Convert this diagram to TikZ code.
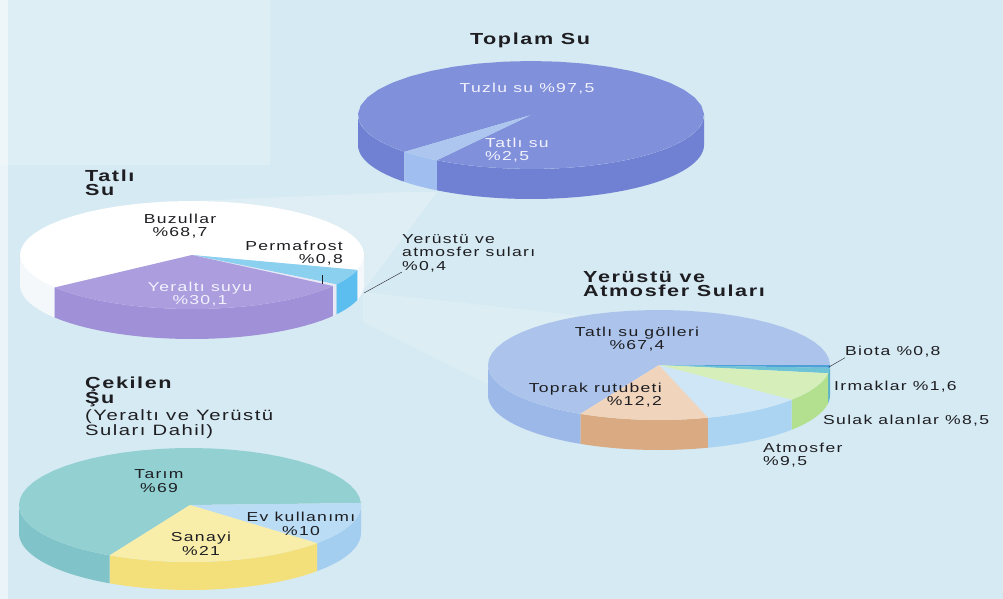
\documentclass[tikz,border=0pt]{standalone}
\usepackage{fontspec}
\setmainfont{Liberation Sans}[FakeStretch=1.35,LetterSpace=10]
\usepackage{tikz}
\usetikzlibrary{positioning}
\definecolor{bgblue}{RGB}{214,234,243}
\definecolor{bglight}{RGB}{222,238,245}
\definecolor{saltTop}{RGB}{128,144,218}
\definecolor{saltSide}{RGB}{112,128,210}
\definecolor{freshTop}{RGB}{172,198,240}
\definecolor{freshSide}{RGB}{160,190,240}
\definecolor{iceTop}{RGB}{255,255,255}
\definecolor{iceSide}{RGB}{244,248,251}
\definecolor{groundTop}{RGB}{172,158,222}
\definecolor{groundSide}{RGB}{160,144,216}
\definecolor{permaTop}{RGB}{232,232,246}
\definecolor{surfTop}{RGB}{140,208,240}
\definecolor{surfSide}{RGB}{92,190,238}
\definecolor{lakeTop}{RGB}{172,196,236}
\definecolor{lakeSide}{RGB}{156,184,232}
\definecolor{soilTop}{RGB}{240,212,188}
\definecolor{soilSide}{RGB}{218,170,130}
\definecolor{airTop}{RGB}{206,230,246}
\definecolor{airSide}{RGB}{170,212,242}
\definecolor{wetTop}{RGB}{214,238,186}
\definecolor{wetSide}{RGB}{178,224,142}
\definecolor{riverTop}{RGB}{110,196,214}
\definecolor{riverSide}{RGB}{90,180,200}
\definecolor{biotaTop}{RGB}{80,160,216}
\definecolor{farmTop}{RGB}{146,208,210}
\definecolor{farmSide}{RGB}{128,196,202}
\definecolor{indTop}{RGB}{248,238,170}
\definecolor{indSide}{RGB}{244,224,122}
\definecolor{homeTop}{RGB}{186,220,244}
\definecolor{homeSide}{RGB}{164,206,240}
\definecolor{ink}{RGB}{30,30,34}
\tikzstyle{title}=[inner sep=0pt,align=left,text=ink,font=\fontsize{16}{14.5}\selectfont\bfseries]
\tikzstyle{sublbl}=[inner sep=0pt,align=left,text=ink,font=\fontsize{15}{14.5}\selectfont]
\tikzstyle{lbl}=[inner sep=0pt,text=ink,font=\fontsize{13}{13.5}\selectfont]
\tikzstyle{inlbl}=[lbl,text=white!95!blue]
\tikzstyle{pointer}=[draw=ink,thin]
% top face and front side of one slice, angles in degrees
\newcommand{\ptop}[3]{\fill[#3] (0,0) -- plot[domain=#1:#2,samples=40] ({\pieA*cos(\x)},{\pieB*sin(\x)}) -- cycle;}
\newcommand{\pside}[3]{\fill[#3] plot[domain=#1:#2,samples=40] ({\pieA*cos(\x)},{\pieB*sin(\x)}) -- plot[domain=#2:#1,samples=40] ({\pieA*cos(\x)},{\pieH+\pieB*sin(\x)}) -- cycle;}
\begin{document}
\begin{tikzpicture}[x=1pt,y=-1pt]
        \useasboundingbox (0,0) rectangle (1003,599);
        \fill[bgblue] (0,0) rectangle (1003,599);
        \fill[bglight] (0,0) rectangle (270,165);
        \fill[white,opacity=0.5] (0,0) rectangle (8,599);
        % light beams between the pies
        \fill[white,opacity=0.22] (404,192) -- (437,192) -- (364,290) -- (192,201) -- cycle;
        \fill[white,opacity=0.15] (363,292) -- (363,322) -- (500,390) -- (600,318) -- cycle;

        % Toplam Su:
        \begin{scope}[shift={(531,115)}]
          \def\pieA{173}\def\pieB{54}\def\pieH{30}
          \pside{0}{123}{saltSide}
          \pside{137}{180}{saltSide}
          \pside{123}{137}{freshSide}
          \ptop{137}{483}{saltTop}
          \ptop{123}{137}{freshTop}
        \end{scope}
        % Tatli Su:
        \begin{scope}[shift={(192,255)}]
          \def\pieA{172}\def\pieB{54}\def\pieH{30}
          \pside{0}{16}{iceSide}
          \pside{143}{180}{iceSide}
          \pside{16}{33}{surfSide}
          \pside{33}{35}{permaTop}
          \pside{35}{143}{groundSide}
          \ptop{143}{376}{iceTop}
          \ptop{16}{33}{surfTop}
          \ptop{33}{35}{permaTop}
          \ptop{35}{143}{groundTop}
        \end{scope}
        % Yerustu ve Atmosfer Sulari:
        \begin{scope}[shift={(659,365)}]
          \def\pieA{171}\def\pieB{55}\def\pieH{30}
          \pside{0}{2.9}{biotaTop}
          \pside{2.9}{8.6}{riverSide}
          \pside{8.6}{39.2}{wetSide}
          \pside{39.2}{73.4}{airSide}
          \pside{73.4}{117.4}{soilSide}
          \pside{117.4}{180}{lakeSide}
          \ptop{117.4}{360}{lakeTop}
          \ptop{0}{2.9}{biotaTop}
          \ptop{2.9}{8.6}{riverTop}
          \ptop{8.6}{39.2}{wetTop}
          \ptop{39.2}{73.4}{airTop}
          \ptop{73.4}{117.4}{soilTop}
        \end{scope}
        % Cekilen Su:
        \begin{scope}[shift={(190,505)}]
          \def\pieA{171}\def\pieB{57}\def\pieH{28}
          \pside{0}{42}{homeSide}
          \pside{42}{118}{indSide}
          \pside{118}{180}{farmSide}
          \ptop{118}{358}{farmTop}
          \ptop{-2}{42}{homeTop}
          \ptop{42}{118}{indTop}
        \end{scope}

        % First pie:
        \node (toplam) [title] at (530,40) {Toplam Su};
        \node (tuzlu) [inlbl] at (527,89) {Tuzlu su \%97,5};
        \node (tatlisu) [inlbl,align=left,anchor=west] at (485,150) {Tatlı su\\\%2,5};
        % Second pie:
        \node (tatli) [title,anchor=west] at (85,183) {Tatlı\\Su};
        \node (buzul) [lbl,align=center] at (180,226) {Buzullar\\\%68,7};
        \node (perma) [lbl,align=right,anchor=east] at (343,253) {Permafrost\\\%0,8};
        \node (yeralti) [inlbl,align=center] at (200,294) {Yeraltı suyu\\\%30,1};
        \node (yerustu) [lbl,align=left,anchor=west] at (402,253) {Yerüstü ve\\atmosfer suları\\\%0,4};
        \coordinate (permapt) at (322,284);
        \coordinate (yerustupt) at (364,293);
        % Third pie:
        \node (atmtitle) [title,anchor=west] at (583,284) {Yerüstü ve\\Atmosfer Suları};
        \node (gol) [lbl,align=center] at (637,339) {Tatlı su gölleri\\\%67,4};
        \node (toprak) [lbl,align=right,anchor=east] at (662,395) {Toprak rutubeti\\\%12,2};
        \node (biota) [lbl,anchor=west] at (845,352) {Biota \%0,8};
        \node (irmak) [lbl,anchor=west] at (834,387) {Irmaklar \%1,6};
        \node (sulak) [lbl,anchor=west] at (823,421) {Sulak alanlar \%8,5};
        \node (atmos) [lbl,align=left,anchor=west] at (763,455) {Atmosfer\\\%9,5};
        \coordinate (biotapt) at (829,367);
        % Fourth pie:
        \node (cekilen) [title,anchor=west] at (85,392) {Çekilen\\Şu};
        \node (cekilensub) [sublbl,below=3pt of cekilen.south west,anchor=north west] {(Yeraltı ve Yerüstü\\Suları Dahil)};
        \node (tarim) [lbl,align=center] at (159,481) {Tarım\\\%69};
        \node (sanayi) [lbl,align=center] at (201,544) {Sanayi\\\%21};
        \node (ev) [lbl,align=center] at (301,524) {Ev kullanımı\\\%10};

        \path[pointer]
        (permapt) edge[shorten >=10pt] (permapt |- perma.south)
        (yerustu.south west) edge (yerustupt)
        (biota.south west) edge (biotapt);
\end{tikzpicture}
\end{document}
